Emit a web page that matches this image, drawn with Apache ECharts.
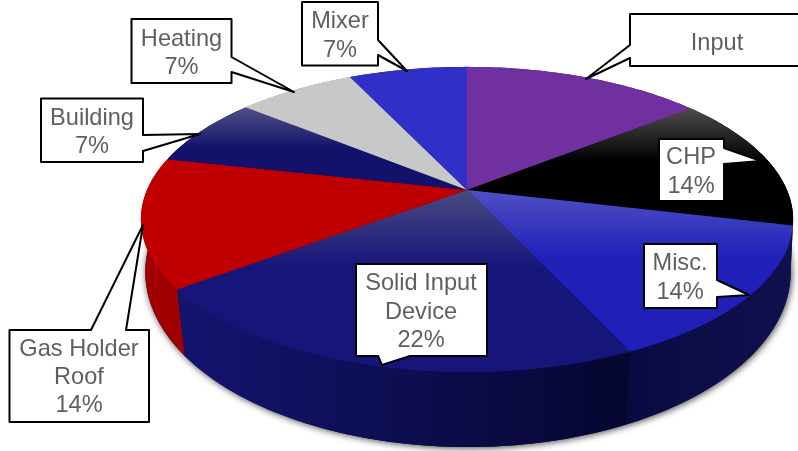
<!DOCTYPE html>
<html>
<head>
<meta charset="utf-8">
<style>html,body{margin:0;padding:0;background:#fff}#c{width:798px;height:451px}</style>
<script src="https://cdn.jsdelivr.net/npm/echarts@6/dist/echarts.min.js"></script>
</head>
<body>
<div id="c"></div>
<script>
const categories = ['Input','CHP','Misc.','Solid Input\nDevice','Gas Holder\nRoof','Building','Heating','Mixer'];
const values = [14.2, 14.25, 14.25, 21.5, 13.6, 7.3, 7, 7];
const percentLabels = ['', '14%', '14%', '22%', '14%', '7%', '7%', '7%'];

const G = echarts.graphic.LinearGradient;
const faceFill = [
  '#7030a0',
  new G(0,0,0,1,[{offset:0,color:'#4c4c4c'},{offset:.45,color:'#000'},{offset:1,color:'#000'}]),
  new G(0,0,0,1,[{offset:0,color:'#5050c4'},{offset:.42,color:'#2020b8'},{offset:1,color:'#2020b8'}]),
  new G(0,0,0,1,[{offset:0,color:'#4a4a80'},{offset:.42,color:'#16167a'},{offset:1,color:'#16167a'}]),
  '#c00000',
  new G(0,0,0,1,[{offset:0,color:'#50508a'},{offset:.5,color:'#12126a'},{offset:1,color:'#12126a'}]),
  '#c8c8c8',
  '#3030c8'
];
const wallFill = [
  '#4a1f6b','#000000',
  new G(0,0,1,0,[{offset:0,color:'#0a0a42'},{offset:1,color:'#10104f'}]),
  new G(0,0,1,0,[{offset:0,color:'#141470'},{offset:1,color:'#060630'}]),
  '#a00000','#0d0d4a','#8a8a8a','#20208a'
];
// callout layout: box [x0,y0,x1,y1], tail [p1,tip,p2] on one box side, text centre
const callouts = [
  {box:[630,14,812,66], tail:[[630,58],[586,79],[630,45]], tx:717, ty:43},
  {box:[659,139,724,201], tail:[[724,148],[761,161],[724,164]], tx:691, ty:172},
  {box:[644,244,717,308], tail:[[717,280],[749,295],[717,297]], tx:680, ty:278},
  {box:[356,264,487,356], tail:[[410,356],[382,365],[378,356]], tx:421, ty:312},
  {box:[9.5,330,149,422], tail:[[126,330],[143,225],[91,330]], tx:79, ty:377.5},
  {box:[41,98.5,143,162], tail:[[143,151],[200,134],[143,135]], tx:92, ty:132.5},
  {box:[131.5,19,231.5,83], tail:[[231.5,72],[294,92],[231.5,57]], tx:181.5, ty:53.5},
  {box:[302,2,378,65.5], tail:[[378,55],[407,71],[378,40]], tx:340, ty:36}
];
const topP = {cx:467, cy:190, a:320, b:146.9, k:0.193};
const botP = {cx:468, cy:242.2, a:318, b:170, k:0.17};
function proj(p, frac){
  const t = frac * 2 * Math.PI, x = Math.sin(t), y = -Math.cos(t), w = 1 - p.k * y;
  return [p.cx + p.a * x / w, p.cy + p.b * y / w];
}
const total = values.reduce((s,v)=>s+v,0);
const starts = []; values.reduce((s,v,i)=>{starts[i]=s; return s+v/total;},0);
function rim(p, f0, f1){
  const n = Math.max(2, Math.ceil((f1-f0)*360)), pts=[];
  for(let i=0;i<=n;i++) pts.push(proj(p, f0+(f1-f0)*i/n));
  return pts;
}
const seriesData = values.map((v,i)=>[i,v]);

function renderWall(params, api){
  const i = api.value(0), f0 = starts[i], f1 = f0 + api.value(1)/total;
  const children = [];
  if(i===0){
    children.push({type:'polygon', shape:{points:rim(botP,0,1)},
      style:{fill:'#10104a', shadowColor:'rgba(0,0,0,0.75)', shadowBlur:7, shadowOffsetX:1, shadowOffsetY:1}});
  }
  const pts = rim(topP,f0,f1).concat(rim(botP,f0,f1).reverse());
  children.push({type:'polygon', shape:{points:pts}, style:{fill:wallFill[i]}});
  return {type:'group', children};
}
function renderFace(params, api){
  const i = api.value(0), f0 = starts[i], f1 = f0 + api.value(1)/total;
  return {type:'polygon', shape:{points:[[topP.cx,topP.cy]].concat(rim(topP,f0,f1))}, style:{fill:faceFill[i]}};
}
function renderLabel(params, api){
  const i = api.value(0), c = callouts[i], b = c.box, p = c.tail;
  const corners = [[b[0],b[1]],[b[2],b[1]],[b[2],b[3]],[b[0],b[3]]];
  const pts = [];
  const onSide = (q,A,B)=> (A[0]===B[0] && q[0]===A[0]) || (A[1]===B[1] && q[1]===A[1]);
  for(let s=0;s<4;s++){
    const A = corners[s], B = corners[(s+1)%4];
    pts.push(A);
    if(onSide(p[0],A,B)){
      const d = q => Math.abs(q[0]-A[0]) + Math.abs(q[1]-A[1]);
      const first = d(p[0])<d(p[2]) ? p[0] : p[2], last = first===p[0] ? p[2] : p[0];
      pts.push(first, p[1], last);
    }
  }
  const txt = categories[i] + (percentLabels[i] ? '\n' + percentLabels[i] : '');
  return {type:'group', children:[
    {type:'polygon', shape:{points:pts}, style:{fill:'#fff', stroke:'#000', lineWidth:2, lineJoin:'round'}},
    {type:'text', z2:5, style:{text:txt, x:c.tx, y:c.ty, align:'center', verticalAlign:'middle',
      font:'23.6px "Liberation Sans", Arial, sans-serif', lineHeight:28.3, fill:'#5f5f5f'}}
  ]};
}
const chart = echarts.init(document.getElementById('c'), null, {renderer:'canvas', width:798, height:451});
chart.setOption({
  animation:false,
  backgroundColor:'#fff',
  series:[
    {type:'custom', coordinateSystem:'none', z:1, silent:true, data:seriesData, renderItem:renderWall},
    {type:'custom', coordinateSystem:'none', z:2, silent:true, data:seriesData, renderItem:renderFace},
    {type:'custom', coordinateSystem:'none', z:3, silent:true, data:seriesData, renderItem:renderLabel}
  ]
});
</script>
</body>
</html>
